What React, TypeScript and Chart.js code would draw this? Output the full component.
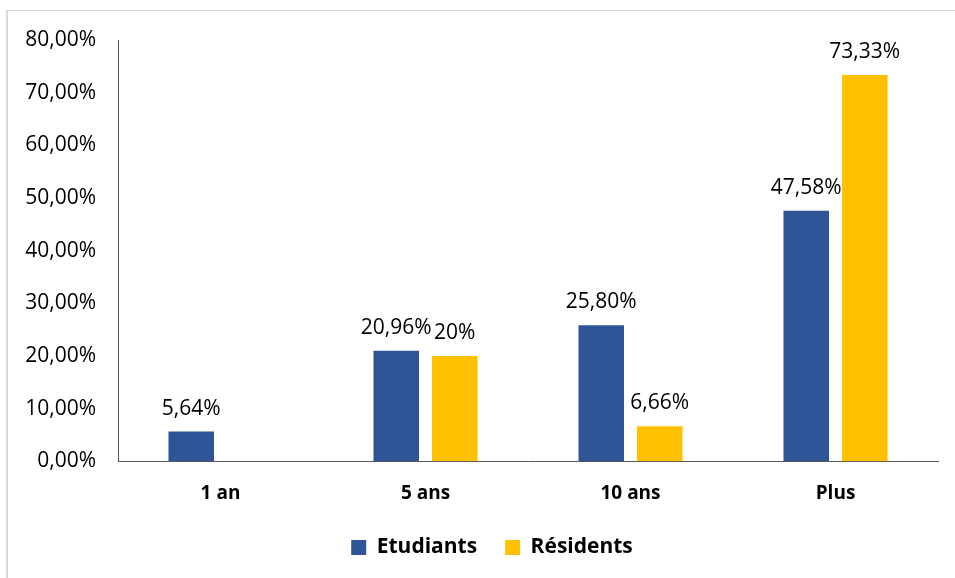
import React, { useEffect, useRef } from "react";
import { Chart, registerables } from "chart.js";

Chart.register(...registerables);

// Durée envisagée, par catégorie
const categories = ["1 an", "5 ans", "10 ans", "Plus"];
const etudiants = [5.64, 20.96, 25.8, 47.58];
const residents: (number | null)[] = [null, 20, 6.66, 73.33];
const yTicks = [0, 10, 20, 30, 40, 50, 60, 70, 80];

const BLUE = "#2F5597";
const GOLD = "#FFC000";
const FONT = "'Open Sans', 'Noto Sans', sans-serif";

const fmtTick = (v: number) => v.toFixed(2).replace(".", ",") + "%";
const fmtValue = (v: number) =>
  Number.isInteger(v) ? `${v}%` : v.toFixed(2).replace(".", ",") + "%";

// Frame drawn around the chart
const framePlugin = {
  id: "frame",
  beforeDraw(chart: Chart) {
    const { ctx, width, height } = chart;
    ctx.save();
    ctx.fillStyle = "#ffffff";
    ctx.fillRect(0, 0, width, height);
    ctx.fillStyle = "#d9d9d9";
    ctx.fillRect(7, 10, width - 7, 1);
    ctx.fillRect(6, 10, 2, height - 10);
    ctx.restore();
  },
};

// Centre the legend a little to the right of the canvas middle
const legendShift = {
  id: "legendShift",
  afterLayout(chart: any) {
    const lg = chart.legend;
    if (!lg) return;
    lg.left += 23;
    lg.right += 23;
  },
};

// Value labels above each bar
const valueLabels = {
  id: "valueLabels",
  afterDatasetsDraw(chart: Chart) {
    const { ctx } = chart;
    ctx.save();
    ctx.fillStyle = "#000000";
    ctx.textAlign = "center";
    ctx.textBaseline = "alphabetic";
    ctx.font = `21px ${FONT}`;
    chart.data.datasets.forEach((ds, di) => {
      const meta = chart.getDatasetMeta(di);
      meta.data.forEach((el: any, i: number) => {
        const v = ds.data[i] as number | null;
        if (v === null || v === undefined) return;
        ctx.fillText(fmtValue(v), el.x, el.y - 17);
      });
    });
    ctx.restore();
  },
};

export default function App() {
  const ref = useRef<HTMLCanvasElement>(null);

  useEffect(() => {
    if (!ref.current) return;
    const chart = new Chart(ref.current, {
      type: "bar",
      data: {
        labels: categories,
        datasets: [
          {
            label: "Etudiants",
            data: etudiants,
            backgroundColor: BLUE,
            categoryPercentage: 0.571,
            barPercentage: 0.778,
          },
          {
            label: "Résidents",
            data: residents,
            backgroundColor: GOLD,
            categoryPercentage: 0.571,
            barPercentage: 0.778,
          },
        ],
      },
      options: {
        responsive: false,
        animation: false,
        devicePixelRatio: 1,
        layout: { padding: { left: 0, right: 17, top: 40, bottom: 10 } },
        plugins: {
          tooltip: { enabled: false },
          legend: {
            position: "bottom",
            labels: {
              boxWidth: 15,
              boxHeight: 15,
              padding: 28,
              color: "#000000",
              font: { family: FONT, size: 21, weight: "bold" },
            },
          },
        },
        scales: {
          x: {
            afterFit(scale: any) {
              scale.height = scale.height - 9;
            },
            grid: { display: false },
            border: { display: true, color: "#595959", width: 1 },
            ticks: {
              color: "#000000",
              padding: 13,
              font: { family: FONT, size: 19, weight: "bold" },
            },
          },
          y: {
            min: 0,
            max: 80,
            afterBuildTicks(scale: any) {
              scale.ticks = yTicks.map((v) => ({ value: v }));
            },
            afterFit(scale: any) {
              scale.width = 118;
            },
            grid: { display: false },
            border: { display: true, color: "#595959", width: 1 },
            ticks: {
              color: "#000000",
              padding: 14,
              font: { family: FONT, size: 21 },
              callback: (v: any) => fmtTick(Number(v)),
            },
          },
        },
      },
      plugins: [framePlugin, legendShift, valueLabels],
    });
    return () => chart.destroy();
  }, []);

  return (
    <div style={{ position: "fixed", left: 0, top: 0, width: 955, height: 578 }}>
      <canvas ref={ref} width={955} height={578} style={{ display: "block" }} />
    </div>
  );
}
